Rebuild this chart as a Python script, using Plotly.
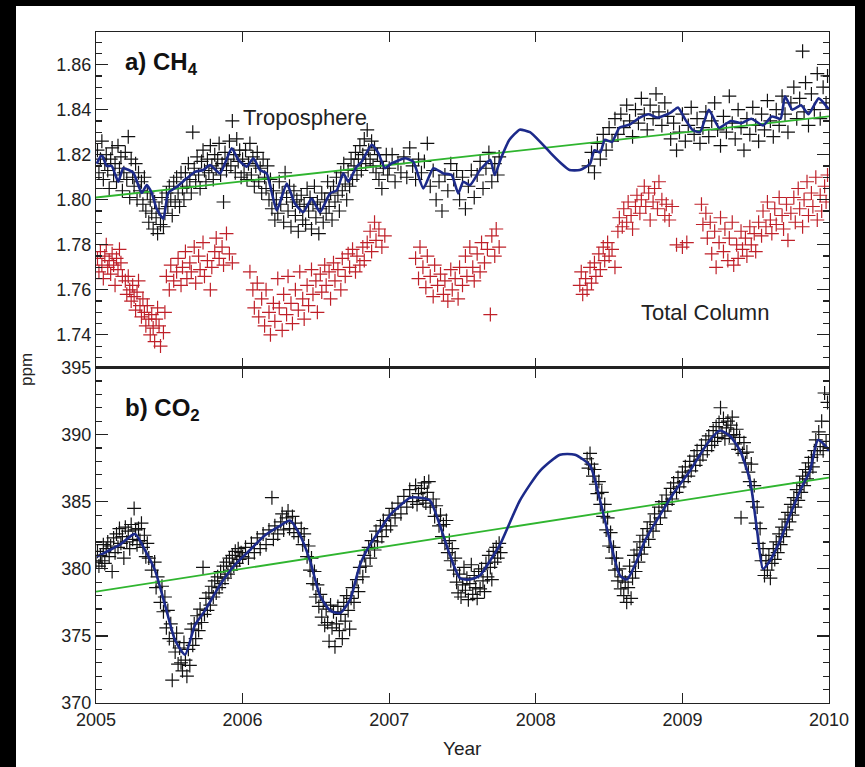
import plotly.graph_objects as go
from plotly.subplots import make_subplots

# ---------------- data (decimal year, ppm) ----------------
ch4_trop = [
(2005.01,1.822),(2005.02,1.812),(2005.03,1.818),(2005.04,1.826),(2005.05,1.809),(2005.06,1.816),(2005.07,1.820),(2005.08,1.813),
(2005.09,1.805),(2005.10,1.818),(2005.11,1.823),(2005.12,1.811),(2005.13,1.816),(2005.14,1.808),(2005.15,1.824),(2005.16,1.814),
(2005.17,1.819),(2005.18,1.804),(2005.19,1.812),(2005.20,1.821),(2005.21,1.809),(2005.22,1.828),(2005.23,1.801),(2005.24,1.818),
(2005.25,1.810),(2005.26,1.806),(2005.27,1.816),(2005.28,1.800),(2005.29,1.812),(2005.30,1.804),
(2005.31,1.808),(2005.32,1.798),(2005.33,1.810),(2005.34,1.795),(2005.35,1.803),(2005.36,1.790),(2005.37,1.800),(2005.38,1.794),
(2005.39,1.787),(2005.40,1.799),(2005.41,1.792),(2005.42,1.785),(2005.43,1.796),(2005.44,1.789),(2005.45,1.801),(2005.46,1.788),
(2005.47,1.794),(2005.48,1.803),(2005.49,1.797),(2005.50,1.806),(2005.51,1.800),(2005.52,1.793),(2005.53,1.808),(2005.54,1.799),
(2005.55,1.810),(2005.56,1.803),(2005.57,1.797),(2005.58,1.812),(2005.59,1.805),(2005.60,1.800),
(2005.61,1.812),(2005.62,1.806),(2005.63,1.816),(2005.64,1.809),(2005.65,1.803),(2005.66,1.830),(2005.67,1.814),(2005.68,1.808),
(2005.69,1.819),(2005.70,1.811),(2005.71,1.805),(2005.72,1.817),(2005.73,1.822),(2005.74,1.813),(2005.75,1.808),(2005.76,1.818),
(2005.77,1.812),(2005.78,1.824),(2005.79,1.815),(2005.80,1.809),(2005.81,1.820),(2005.82,1.814),(2005.83,1.818),(2005.84,1.825),
(2005.85,1.811),(2005.86,1.816),(2005.87,1.799),(2005.88,1.821),(2005.89,1.813),(2005.90,1.818),(2005.91,1.826),(2005.92,1.815),
(2005.93,1.835),(2005.94,1.820),(2005.95,1.812),(2005.96,1.827),(2005.97,1.817),(2005.98,1.822),(2005.99,1.810),
(2006.00,1.818),(2006.01,1.812),(2006.02,1.822),(2006.03,1.809),(2006.04,1.816),(2006.05,1.825),(2006.06,1.811),(2006.07,1.819),
(2006.08,1.806),(2006.09,1.815),(2006.10,1.821),(2006.11,1.808),(2006.12,1.814),(2006.13,1.803),(2006.14,1.818),(2006.15,1.810),
(2006.16,1.805),(2006.17,1.815),(2006.18,1.800),(2006.19,1.809),(2006.20,1.796),(2006.21,1.804),(2006.22,1.791),(2006.23,1.800),
(2006.24,1.794),(2006.25,1.808),(2006.26,1.798),(2006.27,1.803),(2006.28,1.790),(2006.29,1.812),(2006.30,1.801),(2006.31,1.795),
(2006.32,1.806),(2006.33,1.788),(2006.34,1.799),(2006.35,1.804),(2006.36,1.793),(2006.37,1.800),(2006.38,1.786),(2006.39,1.797),
(2006.40,1.802),(2006.41,1.791),(2006.42,1.798),(2006.43,1.789),(2006.44,1.805),(2006.45,1.795),(2006.46,1.801),(2006.47,1.787),
(2006.48,1.798),(2006.49,1.806),(2006.50,1.792),(2006.51,1.799),(2006.52,1.785),(2006.53,1.796),(2006.54,1.803),(2006.55,1.790),
(2006.56,1.800),(2006.57,1.794),(2006.58,1.808),(2006.59,1.797),(2006.60,1.803),(2006.61,1.791),(2006.62,1.806),(2006.63,1.799),
(2006.64,1.810),(2006.65,1.802),(2006.66,1.795),(2006.67,1.812),(2006.68,1.804),(2006.69,1.816),(2006.70,1.807),(2006.71,1.800),
(2006.72,1.813),(2006.73,1.806),(2006.74,1.818),(2006.75,1.809),(2006.76,1.815),(2006.77,1.821),(2006.78,1.811),(2006.79,1.818),
(2006.80,1.824),(2006.81,1.813),(2006.82,1.820),(2006.83,1.827),(2006.84,1.816),(2006.85,1.831),(2006.86,1.822),(2006.87,1.818),
(2006.88,1.826),(2006.89,1.815),(2006.90,1.823),(2006.91,1.812),(2006.92,1.820),(2006.93,1.809),(2006.94,1.817),(2006.95,1.805),
(2006.96,1.814),(2006.98,1.820),(2006.99,1.811),
(2007.00,1.814),(2007.02,1.820),(2007.04,1.808),(2007.06,1.816),(2007.08,1.812),(2007.10,1.819),(2007.12,1.810),(2007.14,1.823),
(2007.16,1.815),(2007.18,1.809),(2007.20,1.818),(2007.22,1.812),(2007.24,1.817),(2007.26,1.825),(2007.28,1.806),(2007.30,1.813),
(2007.32,1.800),(2007.34,1.808),(2007.36,1.795),(2007.38,1.811),(2007.40,1.804),(2007.42,1.816),(2007.44,1.809),(2007.46,1.813),
(2007.48,1.800),(2007.50,1.810),(2007.52,1.796),(2007.54,1.806),(2007.56,1.813),(2007.58,1.801),(2007.60,1.811),(2007.62,1.817),
(2007.64,1.805),(2007.66,1.814),(2007.68,1.821),(2007.70,1.808),(2007.72,1.816),(2007.74,1.811),(2007.75,1.819),
(2008.36,1.815),(2008.38,1.821),(2008.40,1.812),(2008.42,1.825),(2008.44,1.818),(2008.46,1.829),(2008.48,1.822),(2008.50,1.832),
(2008.52,1.826),(2008.54,1.836),(2008.56,1.829),(2008.58,1.838),(2008.60,1.832),(2008.62,1.842),(2008.64,1.835),(2008.66,1.828),
(2008.68,1.840),(2008.70,1.834),(2008.72,1.845),(2008.74,1.838),(2008.76,1.831),(2008.78,1.842),(2008.80,1.836),(2008.82,1.847),
(2008.84,1.839),(2008.86,1.833),(2008.88,1.843),(2008.90,1.837),(2008.92,1.827),(2008.94,1.834),(2008.96,1.822),(2008.98,1.830),
(2009.00,1.838),(2009.02,1.826),(2009.04,1.833),(2009.06,1.841),(2009.08,1.829),(2009.10,1.836),(2009.12,1.825),(2009.14,1.832),
(2009.16,1.839),(2009.18,1.828),(2009.20,1.835),(2009.22,1.843),(2009.24,1.831),(2009.26,1.824),(2009.28,1.837),(2009.30,1.830),
(2009.32,1.846),(2009.34,1.834),(2009.36,1.827),(2009.38,1.840),(2009.40,1.832),(2009.42,1.822),(2009.44,1.836),(2009.46,1.829),
(2009.48,1.841),(2009.50,1.833),(2009.52,1.826),(2009.54,1.838),(2009.56,1.831),(2009.58,1.844),(2009.60,1.835),(2009.62,1.828),
(2009.64,1.840),(2009.66,1.833),(2009.68,1.846),(2009.70,1.838),(2009.72,1.830),(2009.74,1.843),(2009.76,1.850),(2009.78,1.836),
(2009.80,1.845),(2009.82,1.866),(2009.83,1.839),(2009.84,1.852),(2009.86,1.833),(2009.88,1.847),(2009.90,1.840),(2009.92,1.856),
(2009.94,1.836),(2009.96,1.850),(2009.98,1.843),(2009.99,1.855),
]

ch4_column = [
(2005.01,1.774),(2005.02,1.768),(2005.03,1.777),(2005.04,1.771),(2005.05,1.765),(2005.06,1.775),(2005.07,1.780),(2005.08,1.770),
(2005.09,1.773),(2005.10,1.767),(2005.11,1.776),(2005.12,1.771),(2005.13,1.762),(2005.14,1.774),(2005.15,1.769),(2005.16,1.778),
(2005.17,1.772),(2005.18,1.766),
(2005.20,1.764),(2005.21,1.758),(2005.22,1.766),(2005.23,1.760),(2005.24,1.755),(2005.25,1.762),(2005.26,1.757),(2005.27,1.751),
(2005.28,1.759),(2005.29,1.764),(2005.30,1.753),(2005.31,1.748),(2005.32,1.756),(2005.33,1.750),(2005.34,1.744),(2005.35,1.753),
(2005.36,1.747),(2005.37,1.740),(2005.38,1.749),(2005.39,1.743),(2005.40,1.737),(2005.41,1.747),(2005.42,1.752),(2005.43,1.744),
(2005.44,1.735),(2005.46,1.741),(2005.47,1.750),
(2005.48,1.766),(2005.50,1.760),(2005.51,1.771),(2005.53,1.764),(2005.55,1.768),(2005.56,1.774),(2005.58,1.762),(2005.59,1.770),
(2005.61,1.777),(2005.62,1.765),(2005.64,1.772),(2005.65,1.768),(2005.67,1.779),(2005.68,1.763),(2005.70,1.775),(2005.71,1.769),
(2005.73,1.781),(2005.74,1.766),(2005.76,1.773),(2005.78,1.760),(2005.79,1.770),(2005.81,1.777),
(2005.82,1.783),(2005.84,1.774),(2005.86,1.779),(2005.87,1.771),(2005.89,1.785),(2005.91,1.776),(2005.93,1.772),
(2006.05,1.768),(2006.07,1.760),(2006.08,1.752),(2006.10,1.763),(2006.11,1.748),(2006.13,1.756),(2006.15,1.744),(2006.16,1.760),
(2006.18,1.750),(2006.19,1.740),(2006.21,1.754),(2006.22,1.746),(2006.24,1.765),(2006.25,1.752),(2006.27,1.742),(2006.28,1.758),
(2006.30,1.749),(2006.31,1.766),(2006.33,1.754),(2006.34,1.745),
(2006.36,1.760),(2006.38,1.751),(2006.39,1.768),(2006.41,1.756),(2006.42,1.747),(2006.44,1.762),(2006.45,1.753),(2006.47,1.769),
(2006.48,1.758),(2006.50,1.764),(2006.51,1.750),(2006.53,1.767),(2006.54,1.759),(2006.56,1.771),(2006.57,1.762),(2006.59,1.768),
(2006.60,1.756),(2006.62,1.772),(2006.63,1.764),(2006.65,1.769),(2006.67,1.760),(2006.68,1.774),
(2006.70,1.766),(2006.72,1.776),(2006.73,1.770),(2006.75,1.778),(2006.77,1.768),(2006.78,1.775),(2006.80,1.771),(2006.82,1.779),
(2006.83,1.773),(2006.85,1.781),(2006.87,1.786),(2006.88,1.777),(2006.90,1.790),(2006.91,1.782),(2006.93,1.787),(2006.95,1.779),
(2006.97,1.784),
(2007.18,1.774),(2007.20,1.765),(2007.21,1.779),(2007.23,1.770),(2007.25,1.761),(2007.26,1.775),(2007.28,1.766),(2007.30,1.757),
(2007.31,1.771),(2007.33,1.762),(2007.35,1.767),(2007.37,1.758),(2007.38,1.764),(2007.40,1.755),(2007.42,1.769),(2007.43,1.760),
(2007.45,1.765),(2007.47,1.756),(2007.48,1.770),(2007.50,1.762),
(2007.52,1.775),(2007.53,1.766),(2007.55,1.779),(2007.57,1.770),(2007.58,1.764),(2007.60,1.776),(2007.62,1.768),(2007.63,1.781),
(2007.65,1.772),(2007.67,1.778),(2007.69,1.749),(2007.70,1.784),(2007.72,1.775),(2007.73,1.787),(2007.75,1.779),
(2008.30,1.762),(2008.31,1.768),(2008.32,1.758),(2008.34,1.765),(2008.35,1.760),(2008.37,1.770),(2008.38,1.763),(2008.40,1.772),
(2008.41,1.766),(2008.43,1.776),(2008.44,1.769),(2008.46,1.779),(2008.47,1.773),(2008.49,1.781),(2008.50,1.775),(2008.52,1.778),
(2008.54,1.770),
(2008.56,1.786),(2008.57,1.792),(2008.59,1.788),(2008.60,1.796),(2008.62,1.790),(2008.63,1.799),(2008.65,1.793),(2008.66,1.787),
(2008.68,1.797),(2008.69,1.802),(2008.71,1.794),(2008.72,1.800),(2008.74,1.806),(2008.75,1.797),(2008.77,1.803),(2008.78,1.791),
(2008.80,1.799),(2008.81,1.805),(2008.83,1.796),(2008.84,1.808),(2008.86,1.800),(2008.88,1.793),(2008.89,1.798),(2008.91,1.791),
(2008.93,1.797),(2008.96,1.780),(2009.00,1.779),(2009.03,1.781),
(2009.13,1.798),(2009.14,1.789),(2009.16,1.794),(2009.17,1.783),(2009.19,1.790),(2009.20,1.776),(2009.22,1.786),(2009.23,1.770),
(2009.25,1.781),(2009.26,1.792),(2009.28,1.777),(2009.29,1.787),(2009.31,1.773),(2009.32,1.783),(2009.34,1.790),(2009.35,1.771),
(2009.37,1.780),(2009.38,1.774),(2009.40,1.786),(2009.41,1.778),(2009.43,1.783),(2009.44,1.775),(2009.46,1.788),(2009.47,1.780),
(2009.49,1.785),(2009.50,1.777),(2009.52,1.790),
(2009.54,1.784),(2009.55,1.795),(2009.57,1.788),(2009.58,1.799),(2009.60,1.791),(2009.61,1.785),(2009.63,1.796),(2009.64,1.789),
(2009.66,1.801),(2009.68,1.793),(2009.69,1.787),(2009.71,1.798),(2009.72,1.782),
(2009.74,1.794),(2009.76,1.801),(2009.77,1.790),(2009.79,1.805),(2009.80,1.796),(2009.82,1.788),(2009.83,1.800),(2009.85,1.808),
(2009.86,1.793),(2009.88,1.803),(2009.89,1.797),(2009.91,1.810),(2009.92,1.791),(2009.94,1.802),(2009.95,1.795),(2009.97,1.806),
(2009.98,1.799),(2009.99,1.811),
]

ch4_fit = [
(2005.005,1.816),(2005.039,1.820),(2005.073,1.815),(2005.107,1.815),(2005.152,1.808),(2005.186,1.814),(2005.254,1.812),
(2005.312,1.803),(2005.346,1.8065),(2005.380,1.803),(2005.414,1.796),(2005.459,1.7916),(2005.493,1.803),(2005.550,1.8057),
(2005.619,1.8095),(2005.675,1.8124),(2005.732,1.8132),(2005.778,1.8154),(2005.846,1.8117),(2005.926,1.8229),(2005.971,1.8177),
(2006.028,1.8147),(2006.073,1.8184),(2006.119,1.8132),(2006.164,1.8117),(2006.233,1.7953),(2006.301,1.8072),(2006.357,1.7983),
(2006.414,1.7945),(2006.471,1.8005),(2006.528,1.7945),(2006.596,1.8028),(2006.642,1.8042),(2006.687,1.8117),(2006.721,1.8080),
(2006.778,1.8147),(2006.812,1.8169),(2006.881,1.8244),(2006.926,1.8207),(2006.971,1.8140),(2007.017,1.8162),(2007.108,1.8184),
(2007.164,1.8169),(2007.233,1.8050),(2007.301,1.8140),(2007.369,1.8117),(2007.426,1.8110),(2007.471,1.8028),(2007.505,1.8080),
(2007.551,1.8065),(2007.619,1.8132),(2007.65,1.8154),(2007.69,1.8177),(2007.72,1.8110),(2007.76,1.8180),
(2007.82,1.8266),(2007.89,1.8311),(2007.96,1.8300),(2008.03,1.8257),(2008.10,1.8208),(2008.17,1.8163),(2008.23,1.8132),
(2008.30,1.8132),(2008.37,1.8160),(2008.40,1.8220),(2008.44,1.8210),(2008.47,1.8266),(2008.52,1.8257),(2008.57,1.8320),
(2008.64,1.8334),(2008.71,1.8365),(2008.77,1.8380),(2008.83,1.8365),(2008.92,1.8387),(2008.97,1.8410),(2009.02,1.8356),
(2009.07,1.8310),(2009.12,1.8300),(2009.18,1.8400),(2009.25,1.8320),(2009.33,1.8350),(2009.40,1.8340),(2009.47,1.8360),
(2009.55,1.8330),(2009.61,1.8370),(2009.67,1.8360),(2009.70,1.8460),(2009.75,1.8400),(2009.81,1.8420),(2009.86,1.8380),
(2009.93,1.8450),(2010.00,1.8400),
]

ch4_trend_years = [2005.0, 2010.0]
ch4_trend_ppm = [1.801, 1.837]

co2_obs = [
(2005.00,380.5),(2005.01,381.3),(2005.02,380.2),(2005.03,381.0),(2005.04,380.6),(2005.05,381.8),(2005.06,380.4),(2005.07,381.5),
(2005.08,382.0),(2005.09,380.9),(2005.10,381.7),(2005.11,379.8),(2005.12,382.3),(2005.13,381.2),(2005.14,382.6),(2005.15,381.6),
(2005.16,383.0),(2005.17,381.9),(2005.18,382.4),(2005.19,380.8),(2005.20,383.1),(2005.21,382.0),(2005.22,382.8),(2005.23,381.5),
(2005.24,383.3),(2005.25,382.2),(2005.26,384.5),(2005.27,382.9),(2005.28,381.8),(2005.29,383.0),(2005.30,382.1),(2005.31,383.4),
(2005.32,381.6),(2005.33,382.5),(2005.34,380.9),(2005.35,381.9),
(2005.36,380.8),(2005.38,379.9),(2005.40,380.5),(2005.41,378.6),(2005.42,379.4),(2005.44,377.5),(2005.45,378.7),(2005.46,376.8),
(2005.47,377.9),(2005.48,375.6),(2005.49,376.9),(2005.50,374.8),(2005.51,375.9),(2005.52,371.7),(2005.53,374.6),(2005.54,373.8),
(2005.55,375.2),(2005.56,372.9),(2005.57,374.1),(2005.58,373.0),(2005.59,372.4),(2005.60,374.5),(2005.61,373.2),(2005.62,372.0),
(2005.63,374.0),(2005.64,372.8),(2005.65,375.5),
(2005.66,374.3),(2005.67,375.9),(2005.68,374.8),(2005.69,376.5),(2005.70,375.4),(2005.71,377.0),(2005.72,376.0),(2005.73,380.1),
(2005.74,376.6),(2005.75,377.8),(2005.76,376.9),(2005.77,378.2),(2005.78,377.3),(2005.79,378.7),(2005.80,377.9),(2005.81,379.1),
(2005.82,378.2),(2005.83,379.4),(2005.84,378.6),(2005.85,379.8),(2005.86,378.9),(2005.87,380.2),(2005.88,379.3),(2005.89,380.5),
(2005.90,379.6),(2005.91,380.8),(2005.92,379.9),(2005.93,381.0),(2005.94,380.2),(2005.95,381.3),(2005.96,380.4),(2005.97,381.5),
(2005.98,380.7),(2005.99,381.2),
(2006.00,380.9),(2006.02,381.6),(2006.04,380.8),(2006.06,381.9),(2006.08,381.2),(2006.10,382.3),(2006.12,381.5),(2006.14,382.6),
(2006.16,381.8),(2006.18,382.9),(2006.20,385.3),(2006.21,382.2),(2006.22,383.2),(2006.24,382.6),(2006.26,383.5),(2006.27,384.1),
(2006.28,382.9),(2006.30,383.8),(2006.31,384.3),(2006.32,383.0),(2006.34,383.9),(2006.35,382.7),(2006.36,383.4),(2006.38,382.4),
(2006.40,383.0),
(2006.41,381.8),(2006.42,382.6),(2006.44,380.9),(2006.45,381.7),(2006.46,379.9),(2006.47,380.8),(2006.48,378.9),(2006.49,379.8),
(2006.50,377.9),(2006.51,378.8),(2006.52,377.2),(2006.53,378.1),(2006.54,376.4),(2006.55,377.5),(2006.56,375.8),(2006.57,377.0),
(2006.58,376.0),(2006.59,374.6),(2006.60,377.3),(2006.61,375.6),(2006.62,376.8),(2006.63,374.2),(2006.64,375.9),(2006.65,377.2),
(2006.66,375.4),(2006.67,376.6),(2006.68,374.8),(2006.69,377.5),(2006.70,376.1),(2006.71,378.0),(2006.72,376.9),(2006.73,375.5),
(2006.74,377.8),(2006.75,378.6),
(2006.76,377.5),(2006.78,379.2),(2006.79,378.3),(2006.80,380.1),(2006.82,379.4),(2006.83,381.0),(2006.84,380.2),(2006.86,381.6),
(2006.87,380.8),(2006.88,382.1),(2006.90,381.4),(2006.91,382.8),(2006.92,382.0),(2006.94,383.2),(2006.95,382.4),(2006.96,383.6),
(2006.98,382.9),(2007.00,384.0),(2007.01,383.2),(2007.02,384.5),(2007.04,383.8),(2007.06,384.9),(2007.08,384.1),(2007.10,385.4),
(2007.12,384.6),(2007.14,385.9),(2007.16,385.0),(2007.18,386.2),(2007.19,384.8),(2007.20,385.6),
(2007.22,386.0),(2007.23,385.1),(2007.24,386.4),(2007.25,384.9),(2007.26,385.7),(2007.27,386.5),(2007.28,384.6),(2007.30,385.2),
(2007.31,383.9),(2007.32,384.7),(2007.34,383.2),(2007.35,384.0),(2007.36,382.4),(2007.37,383.3),(2007.38,381.9),(2007.39,383.6),
(2007.40,381.2),(2007.41,382.1),(2007.42,380.6),(2007.43,381.5),(2007.44,379.9),(2007.45,380.8),
(2007.46,379.0),(2007.47,378.2),(2007.48,379.6),(2007.49,377.9),(2007.50,378.8),(2007.51,380.1),(2007.52,378.4),(2007.53,379.3),
(2007.54,377.7),(2007.55,378.9),(2007.56,380.3),(2007.57,378.1),(2007.58,379.5),(2007.59,378.6),(2007.60,377.8),(2007.61,379.8),
(2007.62,378.5),(2007.63,380.0),(2007.64,379.1),(2007.65,378.3),(2007.66,380.4),(2007.67,379.4),(2007.68,381.0),(2007.69,380.1),
(2007.70,379.2),(2007.71,381.3),(2007.72,380.5),(2007.73,381.6),(2007.74,380.8),(2007.75,381.9),(2007.76,381.2),
(2008.35,388.2),(2008.36,387.5),(2008.37,388.6),(2008.38,387.8),(2008.39,386.9),(2008.40,387.4),(2008.41,386.3),(2008.42,385.6),
(2008.43,386.5),(2008.44,384.8),(2008.45,385.7),(2008.46,383.9),(2008.47,384.8),(2008.48,382.9),(2008.49,383.8),(2008.50,381.7),
(2008.51,382.7),(2008.52,380.8),(2008.53,381.6),(2008.54,379.9),(2008.55,380.8),(2008.56,379.1),(2008.57,380.0),(2008.58,378.5),
(2008.59,379.4),(2008.60,378.0),(2008.61,379.0),(2008.62,377.5),(2008.63,378.6),(2008.64,380.2),(2008.65,377.8),(2008.66,379.3),
(2008.67,381.0),(2008.68,379.8),(2008.69,381.4),(2008.70,380.5),(2008.71,382.0),(2008.72,381.1),(2008.73,382.5),(2008.74,381.6),
(2008.76,383.0),(2008.77,382.2),(2008.78,383.5),(2008.80,382.8),(2008.81,384.1),(2008.82,383.3),(2008.84,384.6),(2008.85,383.8),
(2008.86,385.0),(2008.88,384.3),(2008.89,385.5),(2008.90,384.8),(2008.92,386.0),(2008.93,385.2),(2008.94,386.4),(2008.96,385.7),
(2008.97,386.8),(2008.98,386.1),(2009.00,387.2),(2009.01,386.5),(2009.02,387.6),(2009.04,386.9),(2009.05,388.0),(2009.06,387.3),
(2009.08,388.4),(2009.09,387.7),(2009.10,388.8),(2009.12,388.1),(2009.13,389.2),(2009.14,388.5),(2009.16,389.6),(2009.17,388.8),
(2009.18,389.9),(2009.20,389.2),
(2009.21,390.3),(2009.22,389.5),(2009.23,390.6),(2009.24,389.8),(2009.25,390.9),(2009.26,392.0),(2009.27,390.1),(2009.28,391.2),
(2009.29,389.7),(2009.30,390.5),(2009.31,391.0),(2009.32,389.9),(2009.33,390.7),(2009.34,391.3),(2009.35,390.0),(2009.36,389.3),
(2009.37,390.4),(2009.38,388.9),(2009.39,389.8),(2009.40,383.8),(2009.41,388.6),(2009.42,389.4),(2009.43,387.9),(2009.44,388.7),
(2009.45,387.2),
(2009.46,386.5),(2009.47,387.8),(2009.48,385.0),(2009.49,386.2),(2009.50,383.4),(2009.51,384.6),(2009.52,381.9),(2009.53,383.0),
(2009.54,380.6),(2009.55,381.5),(2009.56,379.5),(2009.57,380.6),(2009.58,379.9),(2009.59,381.0),(2009.60,379.3),
(2009.61,380.4),(2009.62,381.5),(2009.63,380.7),(2009.64,382.0),(2009.65,381.2),(2009.66,382.6),(2009.67,381.8),(2009.68,383.1),
(2009.69,382.4),(2009.70,383.7),(2009.71,382.9),(2009.72,384.2),(2009.73,383.5),(2009.74,384.8),(2009.75,384.0),(2009.76,385.3),
(2009.77,384.6),(2009.78,385.9),(2009.79,385.1),(2009.80,386.4),(2009.81,385.7),(2009.82,386.9),(2009.83,386.2),(2009.84,387.4),
(2009.85,386.7),(2009.86,387.9),(2009.87,387.2),(2009.88,388.3),(2009.89,387.6),(2009.90,388.8),(2009.91,389.6),(2009.92,388.5),
(2009.93,390.2),(2009.94,389.1),(2009.95,391.0),(2009.96,388.8),(2009.97,393.1),(2009.98,389.5),(2009.99,392.4),
]

co2_fit = [
(2005.007,380.9),(2005.095,381.4),(2005.164,381.8),(2005.266,382.6),(2005.334,381.4),(2005.402,379.9),(2005.471,377.3),
(2005.539,374.7),(2005.607,373.6),(2005.675,375.8),(2005.744,376.9),(2005.846,378.8),(2005.948,380.3),(2006.050,381.4),
(2006.153,382.5),(2006.255,383.2),(2006.323,383.6),(2006.392,382.5),(2006.460,380.6),(2006.528,378.0),(2006.596,376.9),
(2006.664,376.7),(2006.733,377.7),(2006.801,380.3),(2006.869,381.8),(2006.937,382.9),(2007.005,384.0),(2007.073,384.7),
(2007.142,385.3),(2007.210,385.3),(2007.278,385.1),(2007.347,383.2),(2007.415,381.0),(2007.483,379.3),(2007.551,379.2),
(2007.619,379.5),(2007.688,380.6),(2007.756,381.8),(2007.892,385.1),(2008.029,387.3),(2008.165,388.5),(2008.267,388.5),
(2008.370,387.7),(2008.438,385.1),(2008.506,382.1),(2008.574,379.5),(2008.622,379.2),(2008.677,380.3),(2008.745,382.1),
(2008.847,384.0),(2008.950,385.8),(2009.052,387.3),(2009.120,388.5),(2009.188,389.6),(2009.256,390.3),(2009.325,389.9),
(2009.393,388.8),(2009.461,386.6),(2009.509,382.9),(2009.550,380.0),(2009.597,380.6),(2009.666,382.1),(2009.734,384.0),
(2009.802,385.8),(2009.870,387.3),(2009.925,389.6),(2009.973,389.2),(2010.000,388.8),
]

co2_trend_years = [2005.0, 2010.0]
co2_trend_ppm = [378.3, 386.8]

year_ticks = [2005, 2006, 2007, 2008, 2009, 2010]
ch4_ticks = [1.74, 1.76, 1.78, 1.80, 1.82, 1.84, 1.86]
co2_ticks = [370, 375, 380, 385, 390, 395]

# ---------------- figure ----------------
def unzip(pairs):
    return [p[0] for p in pairs], [p[1] for p in pairs]

FONT = "Liberation Sans, Arial, Helvetica, sans-serif"
BLACK_X = "#111111"
RED_X = "#bf2029"
BLUE = "#1c2a8a"
GREEN = "#2fb52f"

fig = make_subplots(rows=2, cols=1, shared_xaxes=True, vertical_spacing=0)

cross = dict(symbol="cross-thin", size=10, line=dict(width=1.2))

x, y = unzip(ch4_column)
fig.add_trace(go.Scatter(x=x, y=y, mode="markers",
                         marker=dict(**cross, color=RED_X, line_color=RED_X)), row=1, col=1)
x, y = unzip(ch4_trop)
fig.add_trace(go.Scatter(x=x, y=y, mode="markers",
                         marker=dict(**cross, color=BLACK_X, line_color=BLACK_X)), row=1, col=1)
fig.add_trace(go.Scatter(x=ch4_trend_years, y=ch4_trend_ppm, mode="lines",
                         line=dict(color=GREEN, width=1.8)), row=1, col=1)
x, y = unzip(ch4_fit)
fig.add_trace(go.Scatter(x=x, y=y, mode="lines", line=dict(color=BLUE, width=2.6, shape="spline", smoothing=0.5)),
              row=1, col=1)

x, y = unzip(co2_obs)
fig.add_trace(go.Scatter(x=x, y=y, mode="markers",
                         marker=dict(**cross, color=BLACK_X, line_color=BLACK_X)), row=2, col=1)
fig.add_trace(go.Scatter(x=co2_trend_years, y=co2_trend_ppm, mode="lines",
                         line=dict(color=GREEN, width=1.8)), row=2, col=1)
x, y = unzip(co2_fit)
fig.add_trace(go.Scatter(x=x, y=y, mode="lines", line=dict(color=BLUE, width=2.6, shape="spline", smoothing=0.6)),
              row=2, col=1)

axis_common = dict(showline=True, linecolor="#222", linewidth=1.2, mirror="allticks",
                   ticks="inside", tickcolor="#222", showgrid=False, zeroline=False,
                   tickfont=dict(family=FONT, size=18, color="#222"))

fig.update_xaxes(range=[2005, 2010], tickvals=year_ticks, ticklen=10, tickwidth=1.2, **axis_common)
fig.update_xaxes(showticklabels=False, row=1, col=1)
fig.update_xaxes(ticktext=[str(v) for v in year_ticks], row=2, col=1)

fig.update_yaxes(range=[1.7255, 1.8745], tickvals=ch4_ticks, tickformat=".2f", ticklen=12, tickwidth=1.2,
                 minor=dict(ticks="inside", dtick=0.005, tick0=1.74, ticklen=6, tickcolor="#222", tickwidth=1.2),
                 row=1, col=1, **axis_common)
fig.update_yaxes(range=[370, 395], tickvals=co2_ticks, ticklen=12, tickwidth=1.2,
                 minor=dict(ticks="inside", dtick=1, tick0=370, ticklen=6, tickcolor="#222", tickwidth=1.2),
                 row=2, col=1, **axis_common)

W, H = 865, 767
L, R, T, B = 96, 829, 32, 703
pw, ph = R - L, B - T

def px(xp):
    return (xp - L) / pw

def py(yp):
    return (B - yp) / ph

annotations = [
    dict(text="<b>a) CH<sub>4</sub></b>", x=px(123), y=py(64), xanchor="left", yanchor="middle",
         font=dict(family=FONT, size=24, color="#111")),
    dict(text="<b>b) CO<sub>2</sub></b>", x=px(123), y=py(409), xanchor="left", yanchor="middle",
         font=dict(family=FONT, size=24, color="#111")),
    dict(text="Troposphere", x=px(305), y=py(118), xanchor="center", yanchor="middle",
         font=dict(family=FONT, size=22, color="#222")),
    dict(text="Total Column", x=px(705), y=py(312), xanchor="center", yanchor="middle",
         font=dict(family=FONT, size=22, color="#222")),
    dict(text="Year", x=px(462), y=py(748), xanchor="center", yanchor="middle",
         font=dict(family=FONT, size=19, color="#222")),
    dict(text="ppm", x=px(26), y=py(370), xanchor="center", yanchor="middle", textangle=-90,
         font=dict(family=FONT, size=17, color="#222")),
]
for a in annotations:
    a.update(xref="paper", yref="paper", showarrow=False)

shapes = [
    dict(type="rect", xref="paper", yref="paper", x0=px(-5), x1=px(16), y0=py(775), y1=py(-5),
         fillcolor="black", line_width=0, layer="above"),
    dict(type="rect", xref="paper", yref="paper", x0=px(855), x1=px(870), y0=py(775), y1=py(-5),
         fillcolor="black", line_width=0, layer="above"),
    dict(type="rect", xref="paper", yref="paper", x0=px(-5), x1=px(870), y0=py(6), y1=py(-5),
         fillcolor="black", line_width=0, layer="above"),
]

fig.update_layout(
    width=W, height=H,
    margin=dict(l=L, r=W - R, t=T, b=H - B, pad=0),
    paper_bgcolor="white", plot_bgcolor="white",
    showlegend=False,
    annotations=annotations,
    shapes=shapes,
    font=dict(family=FONT, color="#222"),
)

fig.write_html("out.html", config={"displayModeBar": False, "staticPlot": True},
               post_script="document.body.style.margin='0';document.body.style.padding='0';"
                           "document.body.style.background='black';document.body.style.overflow='hidden';")
